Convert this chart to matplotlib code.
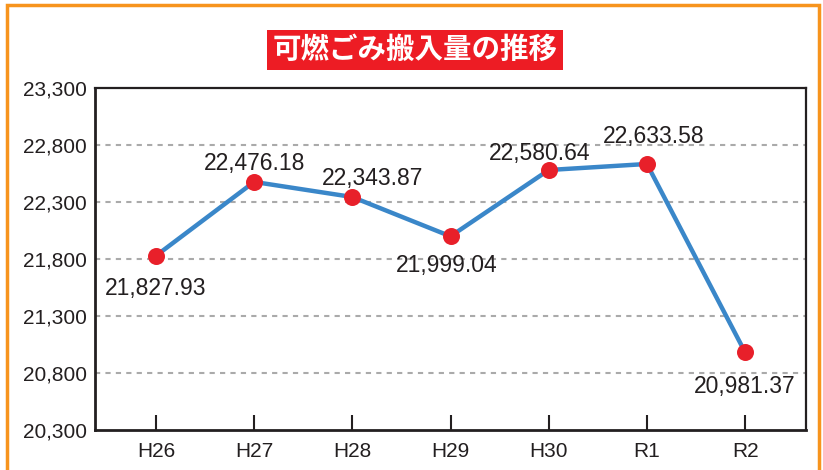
import matplotlib
matplotlib.use("Agg")
import matplotlib.pyplot as plt
from matplotlib.patches import Rectangle

# data
years = ["H26", "H27", "H28", "H29", "H30", "R1", "R2"]
amounts = [21827.93, 22476.18, 22343.87, 21999.04, 22580.64, 22633.58, 20981.37]
label_side = ["below", "above", "above", "below", "above", "above", "below"]
y_ticks = [20300, 20800, 21300, 21800, 22300, 22800, 23300]

plt.rcParams["font.family"] = ["Liberation Sans", "DejaVu Sans"]

TXT = "#231f20"
fig = plt.figure(figsize=(8.23, 4.70), dpi=100)
ax = fig.add_axes([95 / 823, 1 - 430 / 470, 711 / 823, 342 / 470])

x = list(range(len(years)))
ax.plot(x, amounts, color="#3a87c9", lw=3.2, zorder=3)
ax.scatter(x, amounts, s=150, color="#e8202a", zorder=4, linewidths=0)

# label offsets in pixels (dx, gap from point centre)
dx_px = [0, 0, 20, -4, -9, 7, 0]
gap_px = [22, 12, 12, 19, 10, 21, 24]
CAP = 17  # digit height in px
for i, (v, side) in enumerate(zip(amounts, label_side)):
    dy = gap_px[i] if side == "above" else -(gap_px[i] + CAP)
    ax.annotate(f"{v:,.2f}", (i, v), xytext=(dx_px[i] * 0.72, dy * 0.72),
                textcoords="offset points", ha="center", va="baseline",
                fontsize=16.5, color=TXT, zorder=5)

ax.set_xlim(-0.62, 6.62)
ax.set_ylim(20300, 23300)
ax.set_yticks(y_ticks)
ax.set_yticklabels([f"{t:,}" for t in y_ticks])
ax.set_xticks(x)
ax.set_xticklabels(years)
ax.tick_params(axis="y", length=0, pad=6, labelsize=15, labelcolor=TXT)
ax.tick_params(axis="x", direction="in", length=11, width=1.5, pad=8.5,
               labelsize=15, labelcolor=TXT, color=TXT)
for t in y_ticks[1:-1]:
    ax.axhline(t, color="#aaaaaa", lw=1.5, ls=(0, (2.5, 2.5)), zorder=1)
for s in ax.spines.values():
    s.set_color(TXT)
    s.set_linewidth(1.6)
ax.spines["left"].set_linewidth(2)
ax.spines["bottom"].set_linewidth(2)

# orange frame (bottom edge runs off the picture)
fig.patches.append(Rectangle((7 / 823, -0.05), 812 / 823, 1.05 - 5 / 470,
                             transform=fig.transFigure, fill=False,
                             edgecolor="#f7941d", lw=2.5))

# title on red band
fig.text(415 / 823, 1 - 50 / 470, "可燃ごみ搬入量の推移", ha="center", va="center",
         fontsize=20.5, fontweight="bold", color="white",
         family=["Noto Sans CJK JP", "DejaVu Sans"],
         bbox=dict(boxstyle="square,pad=0.2", fc="#ed1c24", ec="none"))

fig.savefig("out.png", dpi=100)
